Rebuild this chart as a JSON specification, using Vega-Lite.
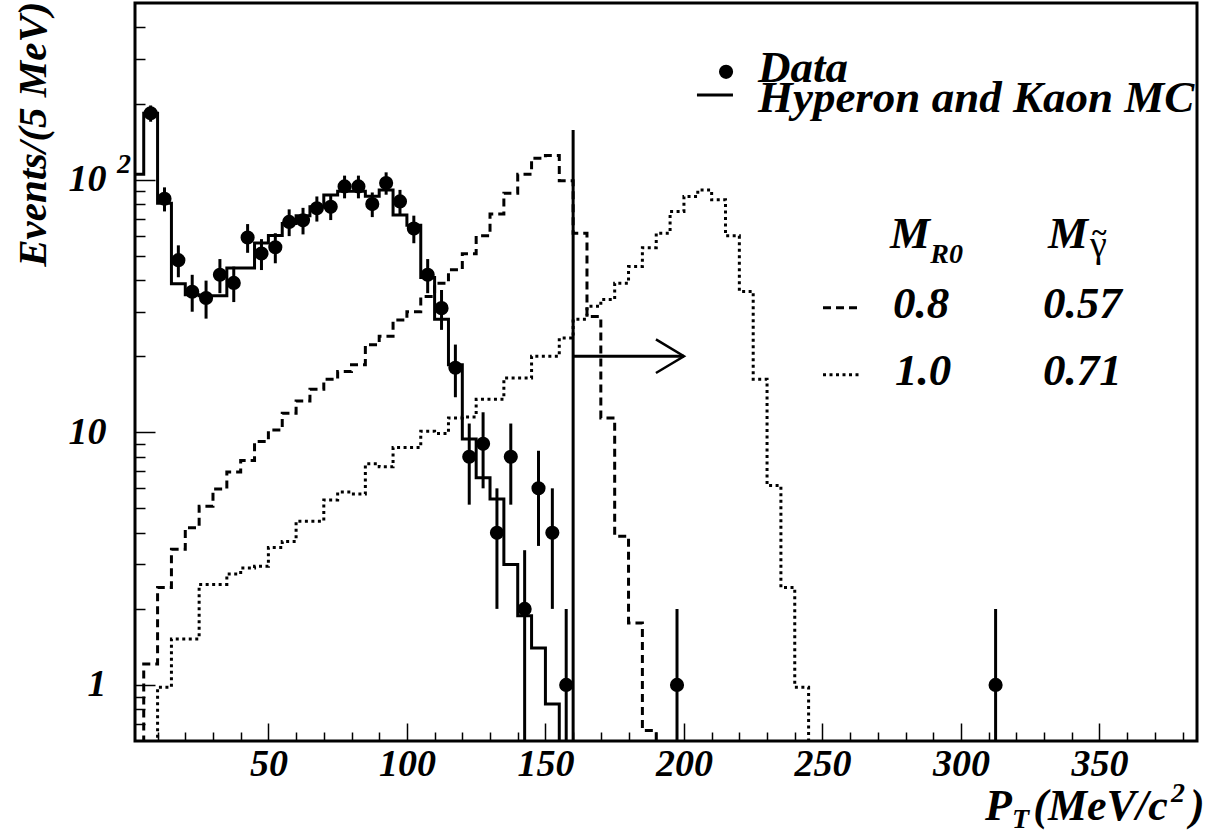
{
  "$schema": "https://vega.github.io/schema/vega-lite/v6.json",
  "width": 1062,
  "height": 738,
  "autosize": {"type": "none"},
  "padding": {"left": 135, "top": 3, "right": 18, "bottom": 94},
  "background": "white",
  "config": {
    "view": {"stroke": "black", "strokeWidth": 3},
    "axis": {"grid": false, "domain": false, "tickColor": "black", "tickWidth": 1.5, "labelColor": "black", "labelFont": "Liberation Serif", "labelFontWeight": "bold", "labelFontStyle": "italic", "titleColor": "black", "labelOverlap": false, "labelFlush": false},
    "text": {"font": "Liberation Serif", "fontWeight": "bold", "fontStyle": "italic", "color": "black", "align": "left", "baseline": "alphabetic"}
  },
  "datasets": {
    "pts": [
      {"x": 7.5, "n": 183, "lo": 169.47, "hi": 196.53},
      {"x": 12.5, "n": 84, "lo": 74.83, "hi": 93.17},
      {"x": 17.5, "n": 48, "lo": 41.07, "hi": 54.93},
      {"x": 22.5, "n": 36, "lo": 30, "hi": 42},
      {"x": 27.5, "n": 34, "lo": 28.17, "hi": 39.83},
      {"x": 32.5, "n": 42, "lo": 35.52, "hi": 48.48},
      {"x": 37.5, "n": 39, "lo": 32.76, "hi": 45.24},
      {"x": 42.5, "n": 59, "lo": 51.32, "hi": 66.68},
      {"x": 47.5, "n": 51, "lo": 43.86, "hi": 58.14},
      {"x": 52.5, "n": 54, "lo": 46.65, "hi": 61.35},
      {"x": 57.5, "n": 68, "lo": 59.75, "hi": 76.25},
      {"x": 62.5, "n": 69, "lo": 60.69, "hi": 77.31},
      {"x": 67.5, "n": 77, "lo": 68.23, "hi": 85.77},
      {"x": 72.5, "n": 78, "lo": 69.17, "hi": 86.83},
      {"x": 77.5, "n": 94, "lo": 84.3, "hi": 103.7},
      {"x": 82.5, "n": 94, "lo": 84.3, "hi": 103.7},
      {"x": 87.5, "n": 80, "lo": 71.06, "hi": 88.94},
      {"x": 92.5, "n": 97, "lo": 87.15, "hi": 106.85},
      {"x": 97.5, "n": 82, "lo": 72.94, "hi": 91.06},
      {"x": 102.5, "n": 64, "lo": 56, "hi": 72},
      {"x": 107.5, "n": 42, "lo": 35.52, "hi": 48.48},
      {"x": 112.5, "n": 31, "lo": 25.43, "hi": 36.57},
      {"x": 117.5, "n": 18, "lo": 13.76, "hi": 22.24},
      {"x": 122.5, "n": 8, "lo": 5.17, "hi": 10.83},
      {"x": 127.5, "n": 9, "lo": 6, "hi": 12},
      {"x": 132.5, "n": 4, "lo": 2, "hi": 6},
      {"x": 137.5, "n": 8, "lo": 5.17, "hi": 10.83},
      {"x": 142.5, "n": 2, "lo": 0.586, "hi": 3.414},
      {"x": 147.5, "n": 6, "lo": 3.55, "hi": 8.45},
      {"x": 152.5, "n": 4, "lo": 2, "hi": 6},
      {"x": 157.5, "n": 1, "lo": 0.1, "hi": 2},
      {"x": 197.5, "n": 1, "lo": 0.1, "hi": 2},
      {"x": 312.5, "n": 1, "lo": 0.1, "hi": 2}
    ],
    "hist": [
      {"s": "mc", "x": 0, "v": 105}, {"s": "mc", "x": 5, "v": 183}, {"s": "mc", "x": 10, "v": 80.7}, {"s": "mc", "x": 15, "v": 38.7},
      {"s": "mc", "x": 20, "v": 35}, {"s": "mc", "x": 25, "v": 34.7}, {"s": "mc", "x": 30, "v": 34.7}, {"s": "mc", "x": 35, "v": 44.7},
      {"s": "mc", "x": 40, "v": 44.7}, {"s": "mc", "x": 45, "v": 56.1}, {"s": "mc", "x": 50, "v": 60.1}, {"s": "mc", "x": 55, "v": 67},
      {"s": "mc", "x": 60, "v": 72}, {"s": "mc", "x": 65, "v": 78}, {"s": "mc", "x": 70, "v": 87}, {"s": "mc", "x": 75, "v": 90},
      {"s": "mc", "x": 80, "v": 90}, {"s": "mc", "x": 85, "v": 86}, {"s": "mc", "x": 90, "v": 91}, {"s": "mc", "x": 95, "v": 72.5},
      {"s": "mc", "x": 100, "v": 66}, {"s": "mc", "x": 105, "v": 41}, {"s": "mc", "x": 110, "v": 28}, {"s": "mc", "x": 115, "v": 18.5},
      {"s": "mc", "x": 120, "v": 9.4}, {"s": "mc", "x": 125, "v": 6.6}, {"s": "mc", "x": 130, "v": 5.45}, {"s": "mc", "x": 135, "v": 3.0},
      {"s": "mc", "x": 140, "v": 1.88}, {"s": "mc", "x": 145, "v": 1.4}, {"s": "mc", "x": 150, "v": 0.84}, {"s": "mc", "x": 155, "v": 0.1},
      {"s": "mc", "x": 160, "v": 0.1},
      {"s": "s08", "x": 0, "v": 0.1}, {"s": "s08", "x": 5, "v": 1.21}, {"s": "s08", "x": 10, "v": 2.43}, {"s": "s08", "x": 15, "v": 3.44},
      {"s": "s08", "x": 20, "v": 4.19}, {"s": "s08", "x": 25, "v": 5.1}, {"s": "s08", "x": 30, "v": 5.97}, {"s": "s08", "x": 35, "v": 6.97},
      {"s": "s08", "x": 40, "v": 7.74}, {"s": "s08", "x": 45, "v": 9.2}, {"s": "s08", "x": 50, "v": 10.2}, {"s": "s08", "x": 55, "v": 11.9},
      {"s": "s08", "x": 60, "v": 13.3}, {"s": "s08", "x": 65, "v": 14.8}, {"s": "s08", "x": 70, "v": 16.2}, {"s": "s08", "x": 75, "v": 17.4},
      {"s": "s08", "x": 80, "v": 18.5}, {"s": "s08", "x": 85, "v": 22.2}, {"s": "s08", "x": 90, "v": 24}, {"s": "s08", "x": 95, "v": 27.8},
      {"s": "s08", "x": 100, "v": 30}, {"s": "s08", "x": 105, "v": 34.5}, {"s": "s08", "x": 110, "v": 38.9}, {"s": "s08", "x": 115, "v": 44},
      {"s": "s08", "x": 120, "v": 50.9}, {"s": "s08", "x": 125, "v": 59.9}, {"s": "s08", "x": 130, "v": 73.1}, {"s": "s08", "x": 135, "v": 88.4},
      {"s": "s08", "x": 140, "v": 105}, {"s": "s08", "x": 145, "v": 121.6}, {"s": "s08", "x": 150, "v": 124.5}, {"s": "s08", "x": 155, "v": 99},
      {"s": "s08", "x": 160, "v": 61.4}, {"s": "s08", "x": 165, "v": 28.7}, {"s": "s08", "x": 170, "v": 11.4}, {"s": "s08", "x": 175, "v": 3.88},
      {"s": "s08", "x": 180, "v": 1.76}, {"s": "s08", "x": 185, "v": 0.66}, {"s": "s08", "x": 190, "v": 0.1}, {"s": "s08", "x": 195, "v": 0.1},
      {"s": "s10", "x": 0, "v": 0.1}, {"s": "s10", "x": 5, "v": 0.1}, {"s": "s10", "x": 10, "v": 0.98}, {"s": "s10", "x": 15, "v": 1.52},
      {"s": "s10", "x": 20, "v": 1.52}, {"s": "s10", "x": 25, "v": 2.5}, {"s": "s10", "x": 30, "v": 2.5}, {"s": "s10", "x": 35, "v": 2.75},
      {"s": "s10", "x": 40, "v": 2.9}, {"s": "s10", "x": 45, "v": 2.95}, {"s": "s10", "x": 50, "v": 3.5}, {"s": "s10", "x": 55, "v": 3.7},
      {"s": "s10", "x": 60, "v": 4.45}, {"s": "s10", "x": 65, "v": 4.45}, {"s": "s10", "x": 70, "v": 5.4}, {"s": "s10", "x": 75, "v": 5.8},
      {"s": "s10", "x": 80, "v": 5.7}, {"s": "s10", "x": 85, "v": 7.5}, {"s": "s10", "x": 90, "v": 7.3}, {"s": "s10", "x": 95, "v": 8.7},
      {"s": "s10", "x": 100, "v": 8.7}, {"s": "s10", "x": 105, "v": 10.1}, {"s": "s10", "x": 110, "v": 9.9}, {"s": "s10", "x": 115, "v": 11.4},
      {"s": "s10", "x": 120, "v": 11.5}, {"s": "s10", "x": 125, "v": 13.5}, {"s": "s10", "x": 130, "v": 13.5}, {"s": "s10", "x": 135, "v": 16.4},
      {"s": "s10", "x": 140, "v": 16.4}, {"s": "s10", "x": 145, "v": 20}, {"s": "s10", "x": 150, "v": 20}, {"s": "s10", "x": 155, "v": 23.6},
      {"s": "s10", "x": 160, "v": 28}, {"s": "s10", "x": 165, "v": 31.5}, {"s": "s10", "x": 170, "v": 33.5}, {"s": "s10", "x": 175, "v": 38.9},
      {"s": "s10", "x": 180, "v": 45.3}, {"s": "s10", "x": 185, "v": 53.8}, {"s": "s10", "x": 190, "v": 61.4}, {"s": "s10", "x": 195, "v": 74.8},
      {"s": "s10", "x": 200, "v": 85.8}, {"s": "s10", "x": 205, "v": 91}, {"s": "s10", "x": 210, "v": 83.2}, {"s": "s10", "x": 215, "v": 59.9},
      {"s": "s10", "x": 220, "v": 36.1}, {"s": "s10", "x": 225, "v": 16.2}, {"s": "s10", "x": 230, "v": 6.16}, {"s": "s10", "x": 235, "v": 2.43},
      {"s": "s10", "x": 240, "v": 0.98}, {"s": "s10", "x": 245, "v": 0.1}, {"s": "s10", "x": 250, "v": 0.1}
    ],
    "lines": [
      {"k": "cut", "x": 160, "x2": 160, "y": 0.1, "y2": 157},
      {"k": "arrow", "x": 160, "x2": 200, "y": 20, "y2": 20},
      {"k": "legmc", "x": 204.7, "x2": 217.7, "y": 216, "y2": 216},
      {"k": "legdash", "x": 250.2, "x2": 263.6, "y": 31.1, "y2": 31.1},
      {"k": "legdot", "x": 250.2, "x2": 263.6, "y": 16.9, "y2": 16.9}
    ],
    "marks": [
      {"k": "head", "x": 200, "y": 20},
      {"k": "legdata", "x": 215.2, "y": 267}
    ],
    "ann": [
      {"k": "big", "x": 226.7, "y": 243.4, "t": "Data"},
      {"k": "big", "x": 226.7, "y": 185.2, "t": "Hyperon and Kaon MC"},
      {"k": "big", "x": 274.4, "y": 53.7, "t": "M"},
      {"k": "big", "x": 331.4, "y": 53.7, "t": "M"},
      {"k": "big", "x": 275.5, "y": 28.4, "t": "0.8"},
      {"k": "big", "x": 329.6, "y": 28.4, "t": "0.57"},
      {"k": "big", "x": 276.2, "y": 15.44, "t": "1.0"},
      {"k": "big", "x": 329.6, "y": 15.44, "t": "0.71"},
      {"k": "title", "x": 308.7, "y": 0.2921, "t": "P"},
      {"k": "title", "x": 326.1, "y": 0.2921, "t": "(MeV/c"},
      {"k": "title", "x": 382.7, "y": 0.2921, "t": ")"},
      {"k": "sub", "x": 288.9, "y": 46.9, "t": "R0"},
      {"k": "sub", "x": 318.4, "y": 0.2716, "t": "T"},
      {"k": "sub", "x": 375.8, "y": 0.344, "t": "2"},
      {"k": "sub", "x": -4.66, "y": 106.3, "t": "2"},
      {"k": "greek", "x": 346.6, "y": 49.4, "t": "γ"},
      {"k": "tilde", "x": 347.3, "y": 57.3, "t": "~"}
    ]
  },
  "layer": [
    {
      "data": {"name": "hist"},
      "transform": [{"filter": "datum.s === 'mc'"}],
      "mark": {"type": "line", "interpolate": "step-after", "color": "black", "strokeWidth": 3, "clip": true},
      "encoding": {
        "x": {"field": "x", "type": "quantitative", "scale": {"type": "linear", "domain": [1.85, 385.2], "nice": false, "zero": false}, "axis": null},
        "y": {"field": "v", "type": "quantitative", "scale": {"type": "log", "domain": [0.6, 500], "nice": false}, "axis": null}
      }
    },
    {
      "data": {"name": "hist"},
      "transform": [{"filter": "datum.s === 's08'"}],
      "mark": {"type": "line", "interpolate": "step-after", "color": "black", "strokeWidth": 3, "strokeDash": [8, 5], "clip": true},
      "encoding": {
        "x": {"field": "x", "type": "quantitative", "scale": {"type": "linear", "domain": [1.85, 385.2], "nice": false, "zero": false},
              "axis": {"orient": "bottom", "values": [10, 20, 30, 40, 60, 70, 80, 90, 110, 120, 130, 140, 160, 170, 180, 190, 210, 220, 230, 240, 260, 270, 280, 290, 310, 320, 330, 340, 360, 370, 380], "tickSize": -9, "labels": false, "title": null}},
        "y": {"field": "v", "type": "quantitative", "scale": {"type": "log", "domain": [0.6, 500], "nice": false},
              "axis": {"orient": "left", "values": [0.7, 0.8, 0.9, 2, 3, 4, 5, 6, 7, 8, 9, 20, 30, 40, 50, 60, 70, 80, 90, 200, 300, 400], "tickSize": -10, "labels": false, "title": null}}
      }
    },
    {
      "data": {"name": "hist"},
      "transform": [{"filter": "datum.s === 's10'"}],
      "mark": {"type": "line", "interpolate": "step-after", "color": "black", "strokeWidth": 3, "strokeDash": [3, 3.5], "clip": true},
      "encoding": {
        "x": {"field": "x", "type": "quantitative", "scale": {"type": "linear", "domain": [1.85, 385.2], "nice": false, "zero": false}, "axis": null},
        "y": {"field": "v", "type": "quantitative", "scale": {"type": "log", "domain": [0.6, 500], "nice": false}, "axis": null}
      }
    },
    {
      "data": {"name": "pts"},
      "mark": {"type": "rule", "color": "black", "strokeWidth": 3, "clip": true},
      "encoding": {
        "x": {"field": "x", "type": "quantitative", "scale": {"type": "linear", "domain": [1.85, 385.2], "nice": false, "zero": false}, "axis": null},
        "y": {"field": "lo", "type": "quantitative", "scale": {"type": "log", "domain": [0.6, 500], "nice": false}, "axis": null},
        "y2": {"field": "hi"}
      }
    },
    {
      "data": {"name": "pts"},
      "mark": {"type": "point", "shape": "circle", "filled": true, "color": "black", "size": 200, "opacity": 1},
      "encoding": {
        "x": {"field": "x", "type": "quantitative", "scale": {"type": "linear", "domain": [1.85, 385.2], "nice": false, "zero": false},
              "axis": {"orient": "bottom", "values": [50, 100, 150, 200, 250, 300, 350], "tickSize": -18, "labelFontSize": 38, "labelPadding": 22, "title": null}},
        "y": {"field": "n", "type": "quantitative", "scale": {"type": "log", "domain": [0.6, 500], "nice": false},
              "axis": {"orient": "left", "values": [1, 10, 100], "tickSize": -20, "labelFontSize": 38, "labelPadding": 49, "labelExpr": "datum.value == 100 ? '10' : datum.label",
                       "title": "Events/(5 MeV)", "titleFont": "Liberation Serif", "titleFontWeight": "bold", "titleFontStyle": "italic", "titleFontSize": 41,
                       "titleAngle": 270, "titleAnchor": "end", "titleAlign": "right", "titleBaseline": "alphabetic", "titleX": -90, "titleY": -2}}
      }
    },
    {
      "data": {"name": "lines"},
      "mark": {"type": "rule", "color": "black", "strokeWidth": 3, "clip": true},
      "transform": [{"filter": "datum.k === 'cut' || datum.k === 'arrow' || datum.k === 'legmc'"}],
      "encoding": {
        "x": {"field": "x", "type": "quantitative", "scale": {"type": "linear", "domain": [1.85, 385.2], "nice": false, "zero": false}, "axis": null},
        "x2": {"field": "x2"},
        "y": {"field": "y", "type": "quantitative", "scale": {"type": "log", "domain": [0.6, 500], "nice": false}, "axis": null},
        "y2": {"field": "y2"}
      }
    },
    {
      "data": {"name": "lines"},
      "mark": {"type": "rule", "color": "black", "strokeWidth": 3, "strokeDash": [8, 5]},
      "transform": [{"filter": "datum.k === 'legdash'"}],
      "encoding": {
        "x": {"field": "x", "type": "quantitative", "scale": {"type": "linear", "domain": [1.85, 385.2], "nice": false, "zero": false}, "axis": null},
        "x2": {"field": "x2"},
        "y": {"field": "y", "type": "quantitative", "scale": {"type": "log", "domain": [0.6, 500], "nice": false}, "axis": null}
      }
    },
    {
      "data": {"name": "lines"},
      "mark": {"type": "rule", "color": "black", "strokeWidth": 3, "strokeDash": [3, 3.5]},
      "transform": [{"filter": "datum.k === 'legdot'"}],
      "encoding": {
        "x": {"field": "x", "type": "quantitative", "scale": {"type": "linear", "domain": [1.85, 385.2], "nice": false, "zero": false}, "axis": null},
        "x2": {"field": "x2"},
        "y": {"field": "y", "type": "quantitative", "scale": {"type": "log", "domain": [0.6, 500], "nice": false}, "axis": null}
      }
    },
    {
      "data": {"name": "marks"},
      "transform": [{"filter": "datum.k === 'head'"}],
      "mark": {"type": "point", "shape": "M-1,-0.6L0,0L-1,0.6", "filled": false, "stroke": "black", "strokeWidth": 2.5, "size": 3136, "opacity": 1},
      "encoding": {
        "x": {"field": "x", "type": "quantitative", "scale": {"type": "linear", "domain": [1.85, 385.2], "nice": false, "zero": false}, "axis": null},
        "y": {"field": "y", "type": "quantitative", "scale": {"type": "log", "domain": [0.6, 500], "nice": false}, "axis": null}
      }
    },
    {
      "data": {"name": "marks"},
      "transform": [{"filter": "datum.k === 'legdata'"}],
      "mark": {"type": "point", "shape": "circle", "filled": true, "color": "black", "size": 200, "opacity": 1},
      "encoding": {
        "x": {"field": "x", "type": "quantitative", "scale": {"type": "linear", "domain": [1.85, 385.2], "nice": false, "zero": false}, "axis": null},
        "y": {"field": "y", "type": "quantitative", "scale": {"type": "log", "domain": [0.6, 500], "nice": false}, "axis": null}
      }
    },
    {
      "data": {"name": "ann"},
      "transform": [{"filter": "datum.k === 'big'"}],
      "mark": {"type": "text", "fontSize": 45},
      "encoding": {
        "x": {"field": "x", "type": "quantitative", "scale": {"type": "linear", "domain": [1.85, 385.2], "nice": false, "zero": false}, "axis": null},
        "y": {"field": "y", "type": "quantitative", "scale": {"type": "log", "domain": [0.6, 500], "nice": false}, "axis": null},
        "text": {"field": "t"}
      }
    },
    {
      "data": {"name": "ann"},
      "transform": [{"filter": "datum.k === 'title'"}],
      "mark": {"type": "text", "fontSize": 44},
      "encoding": {
        "x": {"field": "x", "type": "quantitative", "scale": {"type": "linear", "domain": [1.85, 385.2], "nice": false, "zero": false}, "axis": null},
        "y": {"field": "y", "type": "quantitative", "scale": {"type": "log", "domain": [0.6, 500], "nice": false}, "axis": null},
        "text": {"field": "t"}
      }
    },
    {
      "data": {"name": "ann"},
      "transform": [{"filter": "datum.k === 'sub'"}],
      "mark": {"type": "text", "fontSize": 28},
      "encoding": {
        "x": {"field": "x", "type": "quantitative", "scale": {"type": "linear", "domain": [1.85, 385.2], "nice": false, "zero": false}, "axis": null},
        "y": {"field": "y", "type": "quantitative", "scale": {"type": "log", "domain": [0.6, 500], "nice": false}, "axis": null},
        "text": {"field": "t"}
      }
    },
    {
      "data": {"name": "ann"},
      "transform": [{"filter": "datum.k === 'greek'"}],
      "mark": {"type": "text", "fontSize": 38, "fontStyle": "normal", "fontWeight": "normal"},
      "encoding": {
        "x": {"field": "x", "type": "quantitative", "scale": {"type": "linear", "domain": [1.85, 385.2], "nice": false, "zero": false}, "axis": null},
        "y": {"field": "y", "type": "quantitative", "scale": {"type": "log", "domain": [0.6, 500], "nice": false}, "axis": null},
        "text": {"field": "t"}
      }
    },
    {
      "data": {"name": "ann"},
      "transform": [{"filter": "datum.k === 'tilde'"}],
      "mark": {"type": "text", "fontSize": 28, "fontStyle": "normal", "fontWeight": "bold"},
      "encoding": {
        "x": {"field": "x", "type": "quantitative", "scale": {"type": "linear", "domain": [1.85, 385.2], "nice": false, "zero": false}, "axis": null},
        "y": {"field": "y", "type": "quantitative", "scale": {"type": "log", "domain": [0.6, 500], "nice": false}, "axis": null},
        "text": {"field": "t"}
      }
    }
  ],
  "resolve": {"axis": {"x": "independent", "y": "independent"}}
}
